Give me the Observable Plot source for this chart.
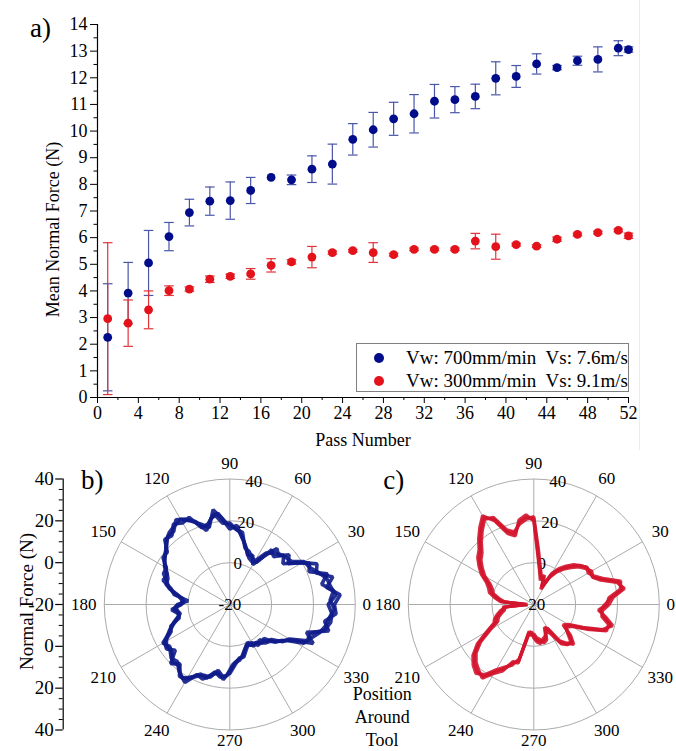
<!DOCTYPE html>
<html><head><meta charset="utf-8">
<script src="https://cdn.jsdelivr.net/npm/d3@7"></script>
<script src="https://cdn.jsdelivr.net/npm/@observablehq/plot@0.6"></script>
<style>
html,body{margin:0;padding:0;background:#fff;overflow:hidden}
#fig{position:relative;width:676px;height:751px;font-family:"Liberation Serif","Times New Roman",Times,"DejaVu Serif",serif;color:#000}
#fig svg{display:block}
#legend{position:absolute;left:356px;top:343px;width:273px;height:49px;border:1px solid #808080;background:#fff;font-size:19px;box-sizing:border-box}
#legend .row{position:absolute;left:0;height:22px;line-height:22px;white-space:pre}
#legend .sw{position:absolute;left:17px;top:6px;width:10px;height:10px;border-radius:50%}
#legend .lab{position:absolute;left:49px;top:0}
#edge{position:absolute;left:639px;top:0;width:1px;height:450px;background:#ececec}
</style></head>
<body><div id="fig"></div>
<script>
// ---------- data: panel a ----------
const passes    = [1,3,5,7,9,11,13,15,17,19,21,23,25,27,29,31,33,35,37,39,41,43,45,47,49,51,52];
const blueMean  = [2.26,3.92,5.05,6.04,6.94,7.37,7.39,7.77,8.26,8.17,8.57,8.76,9.69,10.05,10.46,10.65,11.12,11.18,11.30,11.98,12.05,12.52,12.38,12.64,12.69,13.11,13.06];
const blueErr   = [2.01,1.15,1.22,0.53,0.50,0.53,0.70,0.49,0.00,0.18,0.50,0.75,0.59,0.65,0.62,0.72,0.63,0.49,0.46,0.62,0.41,0.38,0.08,0.17,0.47,0.28,0.10];
const redMean   = [2.96,2.79,3.29,4.01,4.07,4.44,4.55,4.64,4.96,5.09,5.27,5.44,5.51,5.44,5.36,5.56,5.56,5.56,5.87,5.66,5.74,5.68,5.94,6.12,6.19,6.27,6.07];
const redErr    = [2.85,0.87,0.71,0.18,0.08,0.12,0.08,0.20,0.25,0.08,0.40,0.06,0.05,0.37,0.05,0.05,0.05,0.05,0.29,0.47,0.05,0.05,0.08,0.05,0.05,0.05,0.10];
const seriesNames = ["Vw: 700mm/min  Vs: 7.6m/s", "Vw: 300mm/min  Vs: 9.1m/s"];
const xMajorTicks = [0,4,8,12,16,20,24,28,32,36,40,44,48,52];
const xMinorTicks = [2,6,10,14,18,22,26,30,34,38,42,46,50];
const yMajorTicks = [0,1,2,3,4,5,6,7,8,9,10,11,12,13,14];
const yMinorTicks = [0.5,1.5,2.5,3.5,4.5,5.5,6.5,7.5,8.5,9.5,10.5,11.5,12.5,13.5];

// ---------- data: panels b and c (position around tool in degrees, normal force in N) ----------
const anglesA = [0,5,10,15,20,25,30,35,40,45,50,55,60,65,70,75,80,85,90,95,100,105,110,115,120,125,130,135,140,145,150,155,160,165,170,175,180,185,190,195,200,205,210,215,220,225,230,235,240,245,250,255,260,265,270,275,280,285,290,295,300,305,310,315,320,325,330,335,340,345,350,355];
const anglesB = [2.5,7.5,12.5,17.5,22.5,27.5,32.5,37.5,42.5,47.5,52.5,57.5,62.5,67.5,72.5,77.5,82.5,87.5,92.5,97.5,102.5,107.5,112.5,117.5,122.5,127.5,132.5,137.5,142.5,147.5,152.5,157.5,162.5,167.5,172.5,177.5,182.5,187.5,192.5,197.5,202.5,207.5,212.5,217.5,222.5,227.5,232.5,237.5,242.5,247.5,252.5,257.5,262.5,267.5,272.5,277.5,282.5,287.5,292.5,297.5,302.5,307.5,312.5,317.5,322.5,327.5,332.5,337.5,342.5,347.5,352.5,357.5];
const bForceA = [30,33,27,31,24,26,20,14,17,13, 15,8,2,6,5,9,13,18,16,21, 26,18,21,24,27,26,25,23,20,18, 16,13,14,9,7,0,5,7,4,6, 9,12,17,15,16,19,18,21,23,17, 18,15,13,16,12,8,7,5,2,0, 3,2,4,3,8,10,14,24,19,29, 26,31];
const bForceB = [28,30,25,29,21,23,17,12,15,11, 13,4,3,4,7,11,15,17,19,24, 22,17,23,26,28,24,24,21,19,17, 14,12,12,8,3,2,6,5,5,8, 11,14,16,16,18,17,20,22,19,16, 17,13,15,14,9,7,6,3,1,2, 2,3,5,6,9,12,20,22,25,27, 28,30];
const bForceC = [27,31,29,28,25,22,21,16,15,14, 12,10,4,5,7,8,15,16,19,19, 24,20,19,26,25,27,23,24,19,19, 15,15,12,10,5,3,3,8,5,5, 10,11,16,17,14,20,17,22,21,18, 16,16,12,15,13,9,6,6,3,1, 1,4,2,5,6,11,13,21,21,27, 29,29];
const cForceA = [14,17,23,22,15,11,11,11,9,6, 3,0,-4,-12,-6,-7,-3,4,21,22, 20,15,17,25,28,24,20,16,14,11, 8,4,2,1,-2,-5,-17,-6,-5,-3, -1,0,5,12,17,20,22,22,17,14, 10,8,-6,-6,-5,-3,-2,-2,-3,-8, -6,2,5,6,2,-2,0,7,16,18, 14,12];
const cForceB = [16,18,24,21,14,11,12,10,8,5, 2,-1,-5,-10,-7,-6,-2,6,22,21, 19,16,18,26,27,23,19,15,13,10, 7,3,1,0,-3,-6,-15,-7,-4,-2, 0,1,6,13,18,21,23,21,16,13, 11,7,-5,-7,-4,-2,-1,-3,-4,-6, -4,3,5,5,1,-1,1,8,17,17, 13,13];
const cForceC = [15,16,22,23,16,12,10,11,9,7, 4,1,-3,-11,-5,-8,-4,3,20,23, 21,14,16,24,29,25,21,17,15,12, 9,5,3,2,-1,-4,-16,-5,-6,-4, -2,-1,4,11,16,19,21,23,18,15, 9,9,-7,-5,-6,-4,-3,-1,-2,-7, -7,1,4,7,3,-3,-1,6,15,19, 15,11];
const spokeAngles = [0,30,60,90,120,150,180,210,240,270,300,330];
const angleLabels = ["0","30","60","90","120","150","180","210","240","270","300","330"];
const ringValues = [0,20,40];
const radialTicks = [-20,0,20,40];
const radialLabels = ["-20","0","20","40"];
const sideTickPos = [60,40,20,0,-20,-40,-60];
const sideTickLabels = ["40","20","0","-20","0","20","40"];
const sideMinorPos = [55,50,45,35,30,25,15,10,5,-5,-10,-15,-25,-30,-35,-45,-50,-55];

const FONT = '"Liberation Serif","Times New Roman",Times,"DejaVu Serif",serif';
const fig = document.getElementById("fig");

// ---------- panel a ----------
const rowsFor = (mean, err) => passes.map((p,i) => ({pass:p, mean:mean[i], err:err[i]}));
const blueRows = rowsFor(blueMean, blueErr);
const redRows  = rowsFor(redMean, redErr);
const cap = 0.47;
function errMarks(rows, color){
  const e = rows.filter(d => d.err > 0);
  return [
    Plot.ruleX(e, {x:"pass", y1:d=>d.mean-d.err, y2:d=>d.mean+d.err, stroke:color, strokeWidth:1.2}),
    Plot.link(e, {x1:d=>d.pass-cap, x2:d=>d.pass+cap, y1:d=>d.mean+d.err, y2:d=>d.mean+d.err, stroke:color, strokeWidth:1.2}),
    Plot.link(e, {x1:d=>d.pass-cap, x2:d=>d.pass+cap, y1:d=>d.mean-d.err, y2:d=>d.mean-d.err, stroke:color, strokeWidth:1.2})
  ];
}
const ax0 = 97, ax1 = 628, ay0 = 397, ay1 = 24;
const xAt = px => (px - ax0) / (ax1 - ax0) * 52;
const yAt = py => (ay0 - py) / (ay0 - ay1) * 14;
const main = Plot.plot({
  width: 676, height: 451,
  marginLeft: ax0, marginRight: 676 - ax1, marginTop: ay1, marginBottom: 451 - ay0,
  style: {fontFamily: FONT, fontSize: "18px", background: "#fff", color: "#000", overflow: "visible"},
  x: {domain: [0, 52]},
  y: {domain: [0, 14]},
  marks: [
    ...errMarks(blueRows, "#4a56a8"),
    ...errMarks(redRows, "#e0343a"),
    Plot.dot(blueRows, {x:"pass", y:"mean", r:4.4, fill:"#000c8a", stroke:null}),
    Plot.dot(redRows,  {x:"pass", y:"mean", r:4.4, fill:"#e3121b", stroke:null}),
    Plot.axisX({ticks: xMajorTicks, tickSize: 6, tickPadding: 3, label: null, tickFormat: d => String(d)}),
    Plot.axisX({ticks: xMinorTicks, tickSize: 3, label: null, tickFormat: () => ""}),
    Plot.axisY({ticks: yMajorTicks, tickSize: 7, tickPadding: 3, label: null, tickFormat: d => String(d)}),
    Plot.axisY({ticks: yMinorTicks, tickSize: 3.5, label: null, tickFormat: () => ""}),
    Plot.ruleX([0], {strokeWidth: 1.2}),
    Plot.ruleY([0], {strokeWidth: 1.2}),
    Plot.text(["Pass Number"], {x: () => 26, y: () => yAt(440), text: d=>d, fontSize: 18}),
    Plot.text(["Mean Normal Force (N)"], {x: () => xAt(53), y: () => yAt(229), text: d=>d, rotate: -90, fontSize: 18}),
    Plot.text(["a)"], {x: () => xAt(40), y: () => yAt(28), text: d=>d, fontSize: 27})
  ]
});
fig.appendChild(main);

const edge = document.createElement("div"); edge.id = "edge"; fig.appendChild(edge);

// legend
const legend = document.createElement("div");
legend.id = "legend";
const legendColors = ["#000c8a", "#e3121b"];
seriesNames.forEach((name, i) => {
  const row = document.createElement("div");
  row.className = "row";
  row.style.top = (3 + i * 23) + "px";
  row.style.width = "100%";
  const sw = document.createElement("span"); sw.className = "sw"; sw.style.background = legendColors[i];
  const lab = document.createElement("span"); lab.className = "lab"; lab.textContent = name;
  row.appendChild(sw); row.appendChild(lab);
  legend.appendChild(row);
});
fig.appendChild(legend);

// ---------- panels b and c ----------
const K = 125.5 / 60;             // px per force unit
const W = 676, H = 300, TOP = 451;
const bCx = 229.3, cCx = 533.3, cY = 604 - TOP;
const cOff = (cCx - bCx) / K;
const rad = a => a * Math.PI / 180;
const PX = (off, a, v) => off + (v + 20) * Math.cos(rad(a));
const PY = (a, v) => (v + 20) * Math.sin(rad(a));
const panels = [0, cOff];

const bRows = [
  ...anglesA.map((a,i) => ({cycle:"A", angle:a, force:bForceA[i]})),
  ...anglesB.map((a,i) => ({cycle:"B", angle:a, force:bForceB[i]})),
  ...anglesA.map((a,i) => ({cycle:"C", angle:a, force:bForceC[i]}))
];
const cRows = [
  ...anglesA.map((a,i) => ({cycle:"A", angle:a, force:cForceA[i]})),
  ...anglesA.map((a,i) => ({cycle:"B", angle:a, force:cForceB[i]})),
  ...anglesA.map((a,i) => ({cycle:"C", angle:a, force:cForceC[i]}))
];

const grid = "#ababab";
const spokeRows = panels.flatMap(off => spokeAngles.map(a => ({off, a})));
const angleLabelRows = panels.flatMap(off => spokeAngles.map((a,i) => ({off, a, t: angleLabels[i]})));
const labelR = a => (a === 0 ? 137 : a === 90 ? 141 : a === 270 ? 136 : 146) / K;
const radialRows = panels.flatMap(off => radialTicks.map((v,i) => ({off, v, t: radialLabels[i]})));
const axX = (62.7 - bCx) / K;
const at = (px, py) => ({x: (px - bCx) / K, y: (604 - py) / K});

const bottom = Plot.plot({
  width: W, height: H,
  marginLeft: 0, marginRight: 0, marginTop: 0, marginBottom: 0,
  style: {fontFamily: FONT, fontSize: "17px", background: "#fff", color: "#000", overflow: "visible"},
  x: {domain: [-bCx / K, (W - bCx) / K], axis: null},
  y: {domain: [-(H - cY) / K, cY / K], axis: null},
  marks: [
    ...ringValues.map(v => Plot.dot(panels, {x: d=>d, y: () => 0, r: (v + 20) * K, stroke: grid, strokeWidth: 1, fill: "none"})),
    Plot.link(spokeRows, {x1: d=>d.off, y1: () => 0, x2: d=>PX(d.off, d.a, 40), y2: d=>PY(d.a, 40), stroke: grid, strokeWidth: 1}),
    Plot.text(angleLabelRows, {x: d=>d.off + labelR(d.a) * Math.cos(rad(d.a)), y: d=>labelR(d.a) * Math.sin(rad(d.a)), text: "t", fontSize: 17}),
    Plot.text(radialRows, {x: d=>PX(d.off, 79, d.v), y: d=>PY(79, d.v), text: "t", fontSize: 17}),
    Plot.line(bRows, {x: d=>PX(0, d.angle, d.force), y: d=>PY(d.angle, d.force), z: "cycle", curve: "linear-closed", stroke: "#101c8a", strokeWidth: 3.6, strokeLinejoin: "miter", strokeOpacity: 0.9}),
    Plot.line(cRows, {x: d=>PX(cOff, d.angle, d.force), y: d=>PY(d.angle, d.force), z: "cycle", curve: "linear-closed", stroke: "#d3152d", strokeWidth: 3.3, strokeLinejoin: "miter", strokeOpacity: 0.9}),
    // side axis
    Plot.ruleX([axX], {y1: () => -60, y2: () => 60, stroke: "#000", strokeWidth: 1.2}),
    Plot.ruleY(sideTickPos, {y: d=>d, x1: () => axX - 7.5 / K, x2: () => axX, stroke: "#000", strokeWidth: 1.2}),
    Plot.ruleY(sideMinorPos, {y: d=>d, x1: () => axX - 4 / K, x2: () => axX, stroke: "#000", strokeWidth: 1}),
    Plot.text(sideTickPos, {x: () => axX - 9.5 / K, y: d=>d, text: (d,i) => sideTickLabels[i], textAnchor: "end", fontSize: 19}),
    Plot.text(["Normal Force (N)"], {x: () => at(26.7, 601).x, y: () => at(26.7, 601).y, text: d=>d, rotate: -90, fontSize: 19}),
    Plot.text(["b)"], {x: () => at(91.7, 480).x, y: () => at(91.7, 480).y, text: d=>d, fontSize: 27}),
    Plot.text(["c)"], {x: () => at(393.3, 480).x, y: () => at(393.3, 480).y, text: d=>d, fontSize: 27}),
    Plot.text(["Position", "Around", "Tool"], {x: () => at(381.7, 0).x, y: (d,i) => at(0, 694 + 23 * i).y, text: d=>d, fontSize: 18})
  ]
});
fig.appendChild(bottom);
</script>
</body></html>
